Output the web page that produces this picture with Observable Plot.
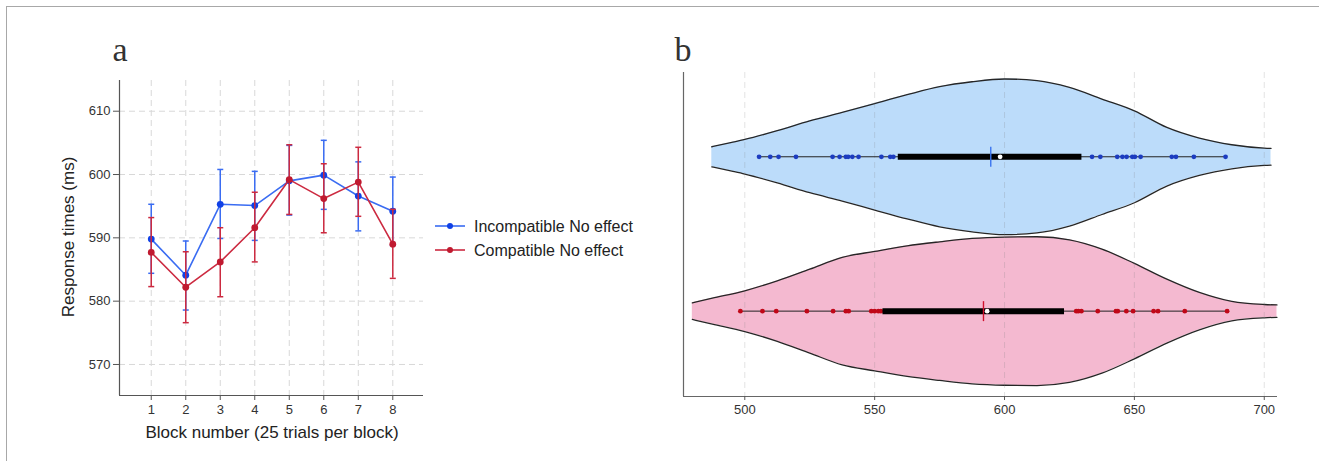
<!DOCTYPE html>
<html><head><meta charset="utf-8">
<script src="https://cdn.jsdelivr.net/npm/d3@7"></script>
<script src="https://cdn.jsdelivr.net/npm/@observablehq/plot@0.6"></script>
<style>
body{margin:0;background:#fff;}
#wrap{position:relative;width:1319px;height:461px;overflow:hidden;background:#fff;font-family:"Liberation Sans",Arial,sans-serif;}
#frame{position:absolute;left:6px;top:6px;width:1400px;height:600px;border-left:1px solid #a8a8a8;border-top:1px solid #a8a8a8;}
.panel{position:absolute;top:0;}
#overlay{position:absolute;left:0;top:0;pointer-events:none;}
</style></head><body>
<div id="wrap"><div id="frame"></div><div id="pa" class="panel" style="left:0"></div><div id="pb" class="panel" style="left:660px"></div></div>
<script>
// ---------- Panel a data ----------
const blocks = [1, 2, 3, 4, 5, 6, 7, 8];
const incMean = [589.8, 584.1, 595.3, 595.1, 599.0, 599.9, 596.6, 594.2];
const incLow  = [584.4, 578.6, 589.9, 589.6, 593.6, 594.5, 591.1, 588.8];
const incHigh = [595.3, 589.5, 600.8, 600.5, 604.6, 605.4, 602.0, 599.6];
const comMean = [587.7, 582.2, 586.2, 591.6, 599.2, 596.2, 598.8, 589.0];
const comLow  = [582.3, 576.6, 580.7, 586.2, 593.7, 590.8, 593.4, 583.6];
const comHigh = [593.2, 587.8, 591.6, 597.2, 604.7, 601.7, 604.3, 594.5];
const yTicksA = [570, 580, 590, 600, 610];
const seriesNames = ["Incompatible No effect", "Compatible No effect"];

// ---------- Panel b data ----------
const xTicksB = [500, 550, 600, 650, 700];
const incViolinX = [487.3, 495, 500, 512.5, 525, 537.5, 550, 562.5, 575, 587.5, 600, 612.5, 625, 637.5, 650, 662.5, 675, 687.5, 700, 702.6];
const incViolinD = [0.065, 0.093, 0.112, 0.169, 0.233, 0.287, 0.345, 0.402, 0.454, 0.486, 0.504, 0.493, 0.449, 0.374, 0.298, 0.190, 0.121, 0.078, 0.056, 0.054];
const comViolinX = [479.8, 487.5, 500, 512.5, 525, 537.5, 550, 562.5, 575, 587.5, 600, 612.5, 625, 637.5, 650, 662.5, 675, 687.5, 700, 704.9];
const comViolinD = [0.054, 0.084, 0.132, 0.196, 0.272, 0.348, 0.387, 0.423, 0.449, 0.471, 0.480, 0.482, 0.462, 0.402, 0.309, 0.207, 0.121, 0.063, 0.043, 0.040];
const incPoints = [505.5, 509.8, 513.0, 519.7, 533.8, 536.5, 538.9, 539.8, 541.4, 543.8, 552.6, 556.0, 557.2, 633.7, 636.9, 643.4, 645.4, 647.0, 649.2, 650.2, 652.4, 664.4, 666.0, 672.9, 685.1];
const comPoints = [498.3, 506.8, 512.1, 523.9, 534.0, 538.9, 540.0, 548.7, 550.0, 551.4, 552.4, 627.6, 628.4, 629.6, 635.9, 642.9, 643.6, 646.9, 649.5, 657.4, 659.1, 669.4, 685.7];
const rowPos  = [2, 1];            // incompatible on top, compatible below
const q1s     = [559.1, 553.2];
const medians = [598.3, 593.3];
const q3s     = [629.8, 623.1];
const meansB  = [594.7, 591.9];

// ---------- styles ----------
const blueLine = "#3a6cf2", blueDot = "#1040e6";
const redLine = "#cc2a40", redDot = "#c01a30";
const blueFill = "#bcdcfa", pinkFill = "#f4b9d0";
const blueRug = "#1c3cc0", redRug = "#c00818";
const blueMean = "#3a74f0", redMean = "#d0102c";
const font = "'Liberation Sans', Arial, sans-serif";

const hCap = {draw(ctx, size) { const h = Math.sqrt(size / Math.PI); ctx.moveTo(-h, 0); ctx.lineTo(h, 0); }};
const vBar = {draw(ctx, size) { const h = Math.sqrt(size / Math.PI); ctx.moveTo(0, -h); ctx.lineTo(0, h); }};

const rowsA = (means, lows, highs) => blocks.map((b, i) => ({b, m: means[i], lo: lows[i], hi: highs[i]}));
const inc = rowsA(incMean, incLow, incHigh);
const com = rowsA(comMean, comLow, comHigh);

function seriesMarks(data, line, dot) {
  return [
    Plot.ruleX(data, {x: "b", y1: "lo", y2: "hi", stroke: line, strokeWidth: 1.5}),
    Plot.dot(data, {x: "b", y: "lo", symbol: hCap, r: 3, stroke: line, strokeWidth: 1.5, fill: "none"}),
    Plot.dot(data, {x: "b", y: "hi", symbol: hCap, r: 3, stroke: line, strokeWidth: 1.5, fill: "none"}),
    Plot.line(data, {x: "b", y: "m", stroke: line, strokeWidth: 1.6}),
    Plot.dot(data, {x: "b", y: "m", r: 3.4, fill: dot, stroke: "none"})
  ];
}

const grid = {stroke: "#d8d8d8", strokeOpacity: 1, strokeDasharray: "6,4", strokeWidth: 1};
const plotA = Plot.plot({
  width: 430, height: 461,
  marginLeft: 119, marginRight: 7, marginTop: 80, marginBottom: 66,
  style: {fontFamily: font, fontSize: "13px", color: "#333", background: "transparent"},
  x: {domain: [0.08, 8.89]},
  y: {domain: [565.1, 614.85]},
  marks: [
    Plot.gridX(blocks, grid),
    Plot.gridY(yTicksA, grid),
    Plot.ruleX([0.08], {stroke: "#555", strokeWidth: 1.2}),
    Plot.ruleY([565.1], {stroke: "#555", strokeWidth: 1.2}),
    Plot.axisX(blocks, {tickSize: 5, tickPadding: 4, label: null, stroke: "#555", fill: "#333", fontSize: 13}),
    Plot.axisY(yTicksA, {tickSize: 6, tickPadding: 3, label: null, stroke: "#555", fill: "#333", fontSize: 13}),
    ...seriesMarks(inc, blueLine, blueDot),
    ...seriesMarks(com, redLine, redDot)
  ]
});
document.getElementById("pa").append(plotA);

// panel b
function violinRows(xs, ds, pos) { return xs.map((x, i) => ({x, lo: pos - ds[i], hi: pos + ds[i]})); }
const vInc = violinRows(incViolinX, incViolinD, rowPos[0]);
const vCom = violinRows(comViolinX, comViolinD, rowPos[1]);
const groups = [
  {v: vInc, pts: incPoints, i: 0, fill: blueFill, rug: blueRug, mean: blueMean},
  {v: vCom, pts: comPoints, i: 1, fill: pinkFill, rug: redRug, mean: redMean}
];
const marksB = [];
for (const g of groups) {
  marksB.push(
    Plot.areaY(g.v, {x: "x", y1: "lo", y2: "hi", fill: g.fill, curve: "monotone-x"}),
    Plot.line(g.v, {x: "x", y: "hi", stroke: "#262626", strokeWidth: 1.3, curve: "monotone-x"}),
    Plot.line(g.v, {x: "x", y: "lo", stroke: "#262626", strokeWidth: 1.3, curve: "monotone-x"})
  );
}
marksB.push(Plot.gridX(xTicksB, {stroke: "#808080", strokeOpacity: 0.22, strokeDasharray: "6,4"}));
for (const g of groups) {
  const pos = rowPos[g.i];
  marksB.push(
    Plot.ruleY([pos], {x1: d3.min(g.pts), x2: d3.max(g.pts), stroke: "#222", strokeWidth: 1}),
    Plot.dot(g.pts, {x: d => d, y: pos, r: 2.4, fill: g.rug, stroke: "none"}),
    Plot.ruleY([pos], {x1: q1s[g.i], x2: q3s[g.i], stroke: "#000", strokeWidth: 6}),
    Plot.dot([meansB[g.i]], {x: d => d, y: pos, symbol: vBar, r: 10, stroke: g.mean, strokeWidth: 1.4, fill: "none"}),
    Plot.dot([medians[g.i]], {x: d => d, y: pos, r: 2.4, fill: "#fff", stroke: "none"})
  );
}
const plotB = Plot.plot({
  width: 659, height: 461,
  marginLeft: 23, marginRight: 42, marginTop: 72, marginBottom: 65,
  style: {fontFamily: font, fontSize: "13px", color: "#333", background: "transparent"},
  x: {domain: [476.4, 705.1]},
  y: {domain: [0.447, 2.546], axis: null},
  marks: [
    ...marksB,
    Plot.ruleX([476.4], {stroke: "#666", strokeWidth: 1.2}),
    Plot.ruleY([0.447], {stroke: "#666", strokeWidth: 1.2}),
    Plot.axisX(xTicksB, {tickSize: 4, tickPadding: 4, label: null, stroke: "#555", fill: "#333", fontSize: 13})
  ]
});
document.getElementById("pb").append(plotB);

// overlay: panel letters, axis titles, legend
const ns = "http://www.w3.org/2000/svg";
const ov = document.createElementNS(ns, "svg");
ov.setAttribute("id", "overlay"); ov.setAttribute("width", 1319); ov.setAttribute("height", 461);
function txt(s, attrs) {
  const t = document.createElementNS(ns, "text"); t.textContent = s;
  for (const k in attrs) t.setAttribute(k, attrs[k]); ov.append(t); return t;
}
function el(name, attrs) { const e = document.createElementNS(ns, name); for (const k in attrs) e.setAttribute(k, attrs[k]); ov.append(e); return e; }
const letterFont = "'Liberation Serif', 'DejaVu Serif', serif";
txt("a", {x: 120, y: 61, "text-anchor": "middle", "font-family": letterFont, "font-size": 34, fill: "#333"});
txt("b", {x: 683, y: 61, "text-anchor": "middle", "font-family": letterFont, "font-size": 34, fill: "#333"});
txt("Response times (ms)", {transform: "translate(74,237) rotate(-90)", "text-anchor": "middle", "font-family": font, "font-size": 17, fill: "#222"});
txt("Block number (25 trials per block)", {x: 272, y: 438, "text-anchor": "middle", "font-family": font, "font-size": 17, fill: "#222"});
const legendColors = [[blueLine, blueDot], [redLine, redDot]];
seriesNames.forEach((name, i) => {
  const y = 226 + i * 24;
  el("line", {x1: 435, x2: 465, y1: y, y2: y, stroke: legendColors[i][0], "stroke-width": 1.6});
  el("circle", {cx: 450, cy: y, r: 3, fill: legendColors[i][1]});
  txt(name, {x: 474, y: y + 5.5, "font-family": font, "font-size": 16, fill: "#222"});
});
document.getElementById("wrap").append(ov);
</script>
</body></html>
